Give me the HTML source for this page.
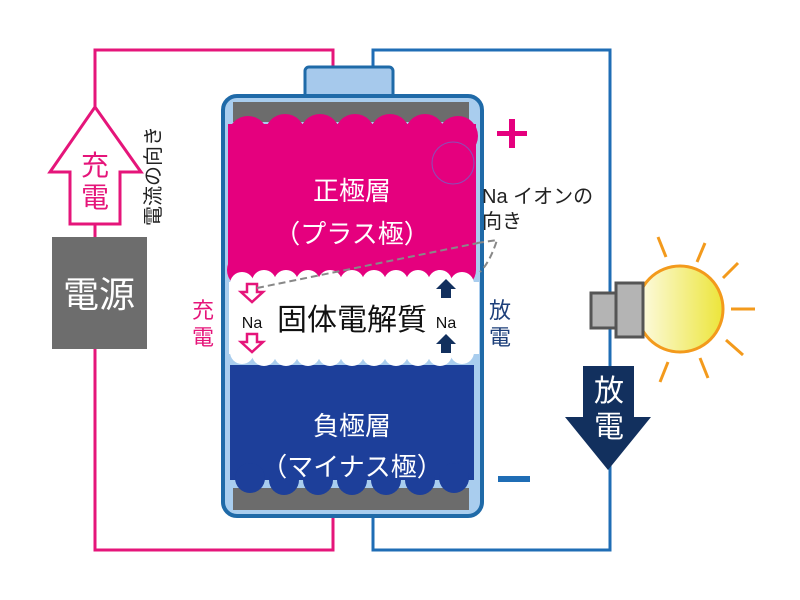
<!DOCTYPE html>
<html><head><meta charset="utf-8"><style>
html,body{margin:0;padding:0;background:#fff;}
svg{display:block}
text{font-family:"Liberation Sans","Noto Sans CJK JP",sans-serif;}
</style></head><body>
<svg width="800" height="600" viewBox="0 0 800 600" xmlns="http://www.w3.org/2000/svg">
<defs>
<linearGradient id="bg" x1="0" x2="1" y1="0" y2="0">
<stop offset="0" stop-color="#fdfbe6"/><stop offset="1" stop-color="#ece53a"/>
</linearGradient>
</defs>
<polyline points="333,70 333,50 95,50 95,550 333,550 333,515" fill="none" stroke="#e5157a" stroke-width="3"/>
<polyline points="373,70 373,50 610,50 610,550 373,550 373,515" fill="none" stroke="#1f6db5" stroke-width="3"/>
<rect x="305" y="67" width="88" height="32" rx="4" fill="#a6c9ec" stroke="#1f6aa8" stroke-width="3"/>
<rect x="223" y="96" width="259" height="420" rx="14" fill="#a9cdee" stroke="#1f6aa8" stroke-width="4"/>
<rect x="233" y="102" width="236" height="20" fill="#6c6c6c"/>
<rect x="233" y="488" width="236" height="22" fill="#6c6c6c"/>
<g fill="#e5007e">
<rect x="228" y="124" width="248" height="146"/>
<circle cx="248" cy="136" r="20"/><circle cx="285" cy="134" r="20"/><circle cx="320" cy="134" r="20"/><circle cx="355" cy="134" r="20"/><circle cx="390" cy="134" r="20"/><circle cx="425" cy="134" r="20"/><circle cx="458" cy="136" r="20"/>
<circle cx="245" cy="270" r="18"/><circle cx="280" cy="272" r="18"/><circle cx="315" cy="272" r="18"/><circle cx="350" cy="272" r="18"/><circle cx="385" cy="272" r="18"/><circle cx="420" cy="272" r="18"/><circle cx="458" cy="270" r="18"/>
</g>
<circle cx="453" cy="163" r="21" fill="none" stroke="#8a4fb8" stroke-width="1"/>
<g fill="#1d3f9a">
<rect x="230" y="365" width="244" height="115"/>
<circle cx="250" cy="478" r="15"/><circle cx="284" cy="480" r="15"/><circle cx="318" cy="480" r="15"/><circle cx="352" cy="480" r="15"/><circle cx="386" cy="480" r="15"/><circle cx="420" cy="480" r="15"/><circle cx="454" cy="478" r="15"/>
</g>
<g fill="#fff">
<rect x="229" y="282" width="250" height="72"/>
<circle cx="242" cy="284" r="12"/><circle cx="264" cy="282" r="12"/><circle cx="286" cy="282" r="12"/><circle cx="308" cy="282" r="12"/><circle cx="330" cy="282" r="12"/><circle cx="352" cy="282" r="12"/><circle cx="374" cy="282" r="12"/><circle cx="396" cy="282" r="12"/><circle cx="418" cy="282" r="12"/><circle cx="440" cy="282" r="12"/><circle cx="462" cy="284" r="12"/>
<circle cx="242" cy="352" r="12"/><circle cx="264" cy="354" r="12"/><circle cx="286" cy="354" r="12"/><circle cx="308" cy="354" r="12"/><circle cx="330" cy="354" r="12"/><circle cx="352" cy="354" r="12"/><circle cx="374" cy="354" r="12"/><circle cx="396" cy="354" r="12"/><circle cx="418" cy="354" r="12"/><circle cx="440" cy="354" r="12"/><circle cx="462" cy="352" r="12"/>
</g>
<text x="352" y="200" font-size="26" fill="#fff" text-anchor="middle">正極層</text>
<text x="352" y="243" font-size="26" fill="#fff" text-anchor="middle">（プラス極）</text>
<text x="352" y="435" font-size="26" fill="#fff" text-anchor="middle">負極層</text>
<text x="352" y="476" font-size="26" fill="#fff" text-anchor="middle">（マイナス極）</text>
<text x="352" y="330" font-size="30" fill="#111" text-anchor="middle">固体電解質</text>
<text x="252" y="328" font-size="16" fill="#111" text-anchor="middle">Na</text>
<text x="446" y="328" font-size="16" fill="#111" text-anchor="middle">Na</text>
<g fill="#fff" stroke="#e5157a" stroke-width="2.5">
<polygon points="247,284 257,284 257,292 263,292 252,302 241,292 247,292"/>
<polygon points="247,334 257,334 257,342 263,342 252,352 241,342 247,342"/>
</g>
<g fill="#12305e">
<polygon points="446,279 456,289 451,289 451,298 441,298 441,289 436,289"/>
<polygon points="446,334 456,344 451,344 451,353 441,353 441,344 436,344"/>
</g>
<path d="M257,288 L478,243 M477,243 L497,240 Q490,262 480,272" fill="none" stroke="#888" stroke-width="2" stroke-dasharray="7,4"/>
<text x="482" y="203" font-size="20" fill="#222">Na イオンの</text>
<text x="482" y="228" font-size="20" fill="#222">向き</text>
<rect x="497" y="131" width="30" height="5" fill="#e5007e"/><rect x="509" y="119" width="6" height="29" fill="#e5007e"/>
<rect x="498" y="476" width="32" height="6" fill="#1f6db5"/>
<text x="203" y="318" font-size="22" fill="#e5157a" text-anchor="middle">充</text>
<text x="203" y="345" font-size="22" fill="#e5157a" text-anchor="middle">電</text>
<text x="500" y="318" font-size="22" fill="#1d3f7a" text-anchor="middle">放</text>
<text x="500" y="345" font-size="22" fill="#1d3f7a" text-anchor="middle">電</text>
<polygon points="95,107 141,172 120,172 120,224 70,224 70,172 50,172" fill="#fff" stroke="#e5157a" stroke-width="3"/>
<text x="95" y="175" font-size="28" fill="#e5157a" text-anchor="middle">充</text>
<text x="95" y="207" font-size="28" fill="#e5157a" text-anchor="middle">電</text>
<text transform="translate(160,226) rotate(-90)" font-size="20" fill="#222" x="0" y="0">電流の向き</text>
<rect x="52" y="237" width="95" height="112" fill="#6d6d6d"/>
<text x="99" y="307" font-size="36" fill="#fff" text-anchor="middle">電源</text>
<g stroke="#f39a1c" stroke-width="3" stroke-linecap="butt">
<line x1="658" y1="237" x2="666" y2="257"/>
<line x1="705" y1="243" x2="697" y2="262"/>
<line x1="738" y1="263" x2="723" y2="278"/>
<line x1="731" y1="309" x2="755" y2="309"/>
<line x1="726" y1="340" x2="743" y2="355"/>
<line x1="700" y1="358" x2="708" y2="378"/>
<line x1="668" y1="362" x2="660" y2="382"/>
</g>
<circle cx="680" cy="309" r="43" fill="url(#bg)" stroke="#f39a1c" stroke-width="3"/>
<rect x="591" y="293" width="25" height="35" fill="#b4b4b4" stroke="#555" stroke-width="3"/>
<rect x="616" y="283" width="27" height="54" fill="#b4b4b4" stroke="#555" stroke-width="3"/>
<polygon points="583,366 634,366 634,417 651,417 608,470 565,417 583,417" fill="#12305e"/>
<text x="609" y="401" font-size="30" fill="#fff" text-anchor="middle">放</text>
<text x="609" y="437" font-size="30" fill="#fff" text-anchor="middle">電</text>
</svg>
</body></html>
